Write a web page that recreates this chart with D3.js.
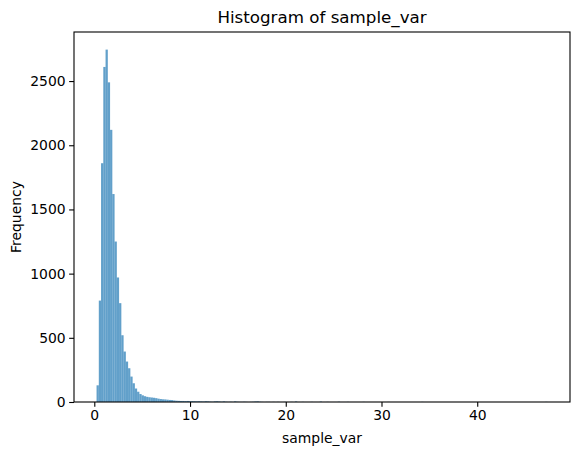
<!DOCTYPE html>
<html>
<head>
<meta charset="utf-8">
<script src="https://cdn.jsdelivr.net/npm/d3@7"></script>
<style>
  html, body { margin: 0; padding: 0; background: #fff; }
  svg { display: block; }
  text { font-family: "DejaVu Sans", sans-serif; fill: #000; }
</style>
</head>
<body>
<svg id="chart" width="579" height="455"></svg>
<script>
// ---- data ----
const titleText = "Histogram of sample_var";
const xLabelText = "sample_var";
const yLabelText = "Frequency";
const dataMin = 0.235;
const dataMax = 47.335;
const counts = [
  130, 790, 1860, 2610, 2745, 2490, 2120, 1620, 1250, 970,
  770, 520, 393, 315, 263, 198, 146, 105, 80, 62,
  52, 45, 40, 37, 35, 33, 30, 26, 23, 21,
  20, 18, 16, 15, 12, 10, 9, 8, 8, 7,
  8, 6, 7, 6, 5, 6, 5, 4, 6, 5,
  3, 2, 5, 6, 4, 2, 5, 2, 1, 2,
  1, 5, 2, 1, 1, 2, 1, 0, 1, 2,
  4, 5, 2, 1, 0, 1, 1, 0, 1, 0,
  1, 0, 0, 1, 0, 0, 1, 0, 4, 0,
  0, 1, 0, 0, 0, 1, 0, 0, 0, 3,
  0, 0, 1, 0, 0, 0, 0, 2, 0, 0,
  0, 1, 0, 0, 0, 0, 0, 0, 1, 0,
  0, 0, 0, 0, 0, 0, 0, 0, 0, 1,
  0, 0, 0, 0, 0, 0, 0, 0, 0, 0,
  0, 0, 0, 0, 1, 0, 0, 0, 0, 0,
  0, 0, 0, 0, 0, 0, 0, 0, 0, 0,
  0, 0, 0, 0, 0, 0, 0, 0, 0, 0,
  0, 0, 0, 0, 0, 0, 0, 0, 0, 0,
  0, 0, 0, 0, 0, 0, 0, 0, 0, 0,
  0, 0, 0, 0, 0, 0, 0, 0, 0, 1
];
const xTicks = [0, 10, 20, 30, 40];
const yTicks = [0, 500, 1000, 1500, 2000, 2500];

// ---- layout ----
const mLeft = 74, mRight = 570, mTop = 32, mBottom = 402;
const nBins = counts.length;
const binW = (dataMax - dataMin) / nBins;
const bins = counts.map((c, i) => ({ x0: dataMin + i * binW, x1: dataMin + (i + 1) * binW, c }));

const span = dataMax - dataMin;
const x = d3.scaleLinear().domain([dataMin - 0.05 * span, dataMax + 0.05 * span]).range([mLeft, mRight]);
const y = d3.scaleLinear().domain([0, d3.max(counts) * 1.05]).range([mBottom, mTop]);

const svg = d3.select("#chart");

svg.append("g").selectAll("rect").data(bins.filter(b => b.c > 0)).join("rect")
  .attr("x", d => x(d.x0))
  .attr("width", d => x(d.x1) - x(d.x0))
  .attr("y", d => y(d.c))
  .attr("height", d => y(0) - y(d.c))
  .attr("fill", "rgb(31,119,180)")
  .attr("fill-opacity", 0.7);

const xAxis = d3.axisBottom(x).tickValues(xTicks).tickSize(4.86).tickPadding(3.2).tickFormat(d3.format("d"));
const yAxis = d3.axisLeft(y).tickValues(yTicks).tickSize(4.86).tickPadding(3.5).tickFormat(d3.format("d"));

const gx = svg.append("g").attr("transform", `translate(0,${mBottom})`).call(xAxis);
const gy = svg.append("g").attr("transform", `translate(${mLeft},0)`).call(yAxis);
[gx, gy].forEach(g => {
  g.select(".domain").remove();
  g.selectAll(".tick line").attr("stroke", "#000").attr("stroke-width", 1.1);
  g.selectAll(".tick text").attr("font-family", "DejaVu Sans, sans-serif").attr("font-size", 13.9).attr("fill", "#000");
});

// spines
svg.append("rect")
  .attr("x", mLeft).attr("y", mTop)
  .attr("width", mRight - mLeft).attr("height", mBottom - mTop)
  .attr("fill", "none").attr("stroke", "#000").attr("stroke-width", 1.1);

// title & labels
svg.append("text").attr("x", (mLeft + mRight) / 2).attr("y", 23)
  .attr("text-anchor", "middle").attr("font-size", 16.7).text(titleText);
svg.append("text").attr("x", (mLeft + mRight) / 2).attr("y", 443)
  .attr("text-anchor", "middle").attr("font-size", 13.9).text(xLabelText);
svg.append("text")
  .attr("transform", `translate(21,${(mTop + mBottom) / 2}) rotate(-90)`)
  .attr("text-anchor", "middle").attr("font-size", 13.9).text(yLabelText);
</script>
</body>
</html>
